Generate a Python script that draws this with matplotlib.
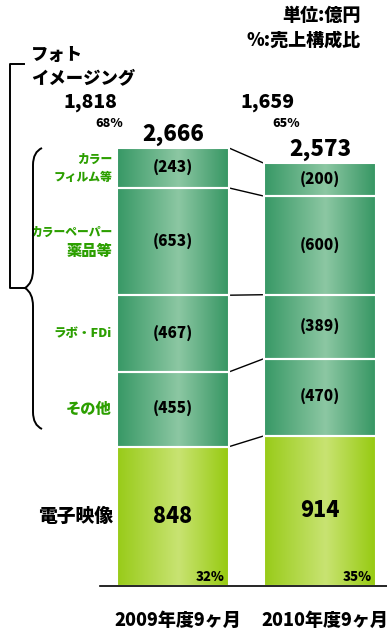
import numpy as np
import matplotlib
matplotlib.use("Agg")
import matplotlib.pyplot as plt
from matplotlib.path import Path
from matplotlib.patches import PathPatch
from matplotlib.colors import LinearSegmentedColormap

plt.rcParams["font.family"] = ["Noto Sans CJK JP", "DejaVu Sans"]
plt.rcParams["font.weight"] = "heavy"

# data (億円), bottom to top
periods = ["2009年度9ヶ月", "2010年度9ヶ月"]
segments = ["電子映像", "その他", "ラボ・FDi", "カラーペーパー\n薬品等", "カラー\nフィルム等"]
values_2009 = [848, 455, 467, 653, 243]
values_2010 = [914, 470, 389, 600, 200]
totals = [2666, 2573]
photo_totals = ["1,818", "1,659"]
photo_share = ["68%", "65%"]
electronic_share = ["32%", "35%"]

W, H = 387, 633
fig = plt.figure(figsize=(W / 100, H / 100), dpi=100)
ax = fig.add_axes([0, 0, 1, 1])
ax.axis("off")

# axes scaling: baseline at 586 px from top, 2666 -> 148 px from top
ppu = (586 - 148) / 2666.0
ylo = -(H - 586) / ppu
yhi = 586 / ppu
xc = [173, 320]
step = xc[1] - xc[0]
xlo = -xc[0] / step
xhi = (W - xc[0]) / step
bw = 112 / step

photo_cmap = LinearSegmentedColormap.from_list(
    "photo", [(0, "#379865"), (0.55, "#8cc7a3"), (1, "#369663")])
lime_cmap = LinearSegmentedColormap.from_list(
    "lime", [(0, "#98cb18"), (0.55, "#c8e372"), (1, "#96ca10")])
grad = np.linspace(0, 1, 256).reshape(1, -1)

def fig_xy(px, py):
    return px / W, 1 - py / H

all_vals = [values_2009, values_2010]
bounds = []
for i, vals in enumerate(all_vals):
    bottom = 0
    tops = []
    for j, v in enumerate(vals):
        bars = ax.bar(i, v, bottom=bottom, width=bw, color="none",
                      edgecolor="white", linewidth=1.5, zorder=3)
        rect = bars[0]
        cmap = lime_cmap if j == 0 else photo_cmap
        im = ax.imshow(grad, cmap=cmap, aspect="auto", zorder=2,
                       extent=[i - bw / 2, i + bw / 2, bottom, bottom + v])
        im.set_clip_path(rect)
        mid = bottom + v / 2
        if j == 0:
            ax.text(i, mid, f"{v}", ha="center", va="center",
                    fontsize=15.5, zorder=4)
            ax.text(i + bw / 2 - 0.03, 14, electronic_share[i], ha="right",
                    va="bottom", fontsize=9.5, zorder=4)
        else:
            ax.text(i, mid, f"({v})", ha="center", va="center",
                    fontsize=11, zorder=4)
        bottom += v
        tops.append(bottom)
    bounds.append(tops)
    ax.text(i, bottom + 12, f"{totals[i]:,}", ha="center", va="bottom",
            fontsize=16)

# connector lines between bars
for a, b in zip(bounds[0], bounds[1]):
    ax.plot([bw / 2, 1 - bw / 2], [a, b], color="black", lw=1, zorder=1)

# baseline
ax.plot([xlo + 100 / step, xhi], [0, 0], color="black", lw=1.2, zorder=5)

# segment labels on the left
green = "#2c9f00"
lx = xlo + 112 / step
gap = 19 / ppu  # line spacing of the two-line labels
for j, lab in enumerate(segments):
    mid = sum(values_2009[:j]) + values_2009[j] / 2
    if j == 0:
        ax.text(xlo + 113 / step, mid, lab, ha="right", va="center",
                fontsize=13.5, color="black")
        continue
    lines = lab.split("\n")
    n = len(lines)
    for k, line in enumerate(lines):
        if line in ("薬品等", "その他"):
            size = 11
        elif line.startswith("ラボ"):
            size = 9
        else:
            size = 8.5
        y = mid + gap * ((n - 1) / 2 - k)
        ax.text(lx, y, line, ha="right", va="center", fontsize=size, color=green)

# category labels
for i, p in enumerate(periods):
    ax.text(i + 0.03, -210, p, ha="center", va="center", fontsize=13)

ax.set_xlim(xlo, xhi)
ax.set_ylim(ylo, yhi)

# header texts
fig.text(*fig_xy(361, 15), "単位:億円", ha="right", va="center", fontsize=13)
fig.text(*fig_xy(361, 40), "%:売上構成比", ha="right", va="center", fontsize=13)
fig.text(*fig_xy(31, 55), "フォト", ha="left", va="center", fontsize=12.5)
fig.text(*fig_xy(31, 78), "イメージング", ha="left", va="center", fontsize=12.5)
for px, lab, pc in zip([90, 267], photo_totals, photo_share):
    fig.text(*fig_xy(px, 102), lab, ha="center", va="center", fontsize=14)
    fig.text(*fig_xy(px + 19, 123), pc, ha="center", va="center", fontsize=9)

# outer bracket
tr = fig.transFigure
pts = [fig_xy(24, 64), fig_xy(10, 64), fig_xy(10, 288), fig_xy(25, 288)]
ax.plot([p[0] for p in pts], [p[1] for p in pts], color="black", lw=1.4,
        transform=tr, clip_on=False)

# curly brace
verts = [fig_xy(42, 148), fig_xy(33, 152), fig_xy(33, 165),
         fig_xy(33, 270), fig_xy(33, 283), fig_xy(25, 288),
         fig_xy(33, 293), fig_xy(33, 306),
         fig_xy(33, 412), fig_xy(33, 425), fig_xy(42, 429)]
codes = [Path.MOVETO, Path.CURVE3, Path.CURVE3,
         Path.LINETO, Path.CURVE3, Path.CURVE3,
         Path.CURVE3, Path.CURVE3,
         Path.LINETO, Path.CURVE3, Path.CURVE3]
fig.patches.append(PathPatch(Path(verts, codes), transform=tr, fill=False,
                             lw=1.4, edgecolor="black"))

fig.savefig("out.png", dpi=100)
